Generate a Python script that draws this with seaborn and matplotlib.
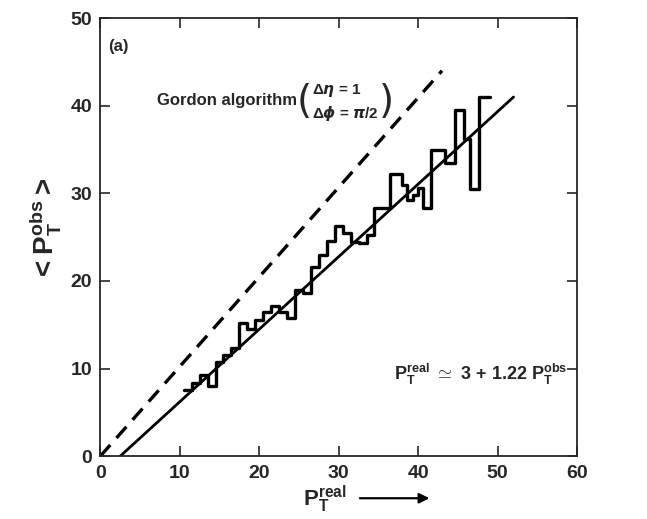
import numpy as np
import pandas as pd
import seaborn as sns
import matplotlib.pyplot as plt

# values
bin_edges = list(np.arange(10.5, 37.0, 1.0)) + [38.0, 38.6, 39.3, 40.0, 40.6,
                                               41.6, 43.4, 44.6, 45.8, 46.5,
                                               47.7, 49.0]
pt_obs_mean = [7.5, 8.3, 9.3, 8.0, 10.8, 11.6, 12.4, 15.2, 14.5, 15.5,
               16.5, 17.2, 16.5, 15.8, 19.0, 18.6, 21.6, 23.0, 24.6, 26.3,
               25.5, 24.5, 24.3, 25.3, 28.3, 28.3, 32.2, 31.0, 29.2, 29.8,
               30.6, 28.3, 35.0, 33.5, 39.5, 36.2, 30.5, 41.0]
pt_real = [(a + b) / 2 for a, b in zip(bin_edges[:-1], bin_edges[1:])]

fit_x = [2.5, 52.0]
fit_y = [0.0, 41.0]
gordon_x = [0.0, 43.0]
gordon_y = [0.0, 44.0]

df = pd.DataFrame({'pt_real': pt_real, 'pt_obs': pt_obs_mean})

sns.set_style('ticks')
plt.rcParams['font.family'] = ['Liberation Sans', 'DejaVu Sans']
plt.rcParams['font.weight'] = 'bold'
plt.rcParams['mathtext.fontset'] = 'custom'
plt.rcParams['mathtext.rm'] = 'Liberation Sans:bold'
plt.rcParams['mathtext.bf'] = 'Liberation Sans:bold'
plt.rcParams['mathtext.it'] = 'DejaVu Sans:italic'
plt.rcParams['mathtext.default'] = 'bf'

fig = plt.figure(figsize=(6.47, 5.19), dpi=100)
ax = fig.add_axes([0.155, 0.121, 0.737, 0.844])

sns.histplot(data=df, x='pt_real', weights='pt_obs', bins=bin_edges,
             element='step', fill=False, color='black', linewidth=2.4, ax=ax)
sns.lineplot(x=fit_x, y=fit_y, color='black', linewidth=2.0, ax=ax)
sns.lineplot(x=gordon_x, y=gordon_y, color='black', linewidth=2.4, ax=ax)
ax.lines[-1].set_dashes([4.5, 2.8])

ax.set_xlim(0, 60)
ax.set_ylim(0, 50)
ax.set_xticks(range(0, 61, 10))
ax.set_yticks(range(0, 51, 10))
ax.tick_params(direction='in', length=7, width=1.2, top=True, right=True,
               labelsize=14, pad=6)
for lab in ax.get_xticklabels() + ax.get_yticklabels():
    lab.set_fontweight('bold')
for sp in ax.spines.values():
    sp.set_linewidth(1.3)

ax.set_xlabel('')
ax.set_ylabel('')
fig.text(0.07, 0.557, r'$<P_T^{obs}>$', rotation=90, fontsize=20,
         ha='center', va='center')
fig.text(0.502, 0.038, r'$P_T^{real}$', fontsize=16, ha='center', va='center')
ax.annotate('', xy=(0.668, 0.04), xytext=(0.552, 0.04),
            xycoords='figure fraction', textcoords='figure fraction',
            arrowprops=dict(arrowstyle='-|>', color='black', lw=1.6,
                            mutation_scale=15))

ax.text(1.0, 46.8, '(a)', fontsize=12, fontweight='bold', va='center')
ax.text(7.1, 40.6, 'Gordon algorithm', fontsize=12, fontweight='bold',
        va='center')
ax.text(25.6, 40.4, '(', fontsize=28, fontweight='normal', ha='center',
        va='center', family='DejaVu Sans')
ax.text(36.0, 40.4, ')', fontsize=28, fontweight='normal', ha='center',
        va='center', family='DejaVu Sans')
ax.text(26.6, 41.7, r'$\Delta\mathit{\eta}$ = 1', fontsize=11, va='center')
ax.text(26.6, 39.2, r'$\Delta\mathit{\phi}$ = $\mathit{\pi}$/2',
        fontsize=11, va='center')
ax.text(37.0, 9.3, r'$P_T^{real}$ $\simeq$ 3 + 1.22 $P_T^{obs}$', fontsize=13,
        va='center')

fig.savefig('out.png', dpi=100)
